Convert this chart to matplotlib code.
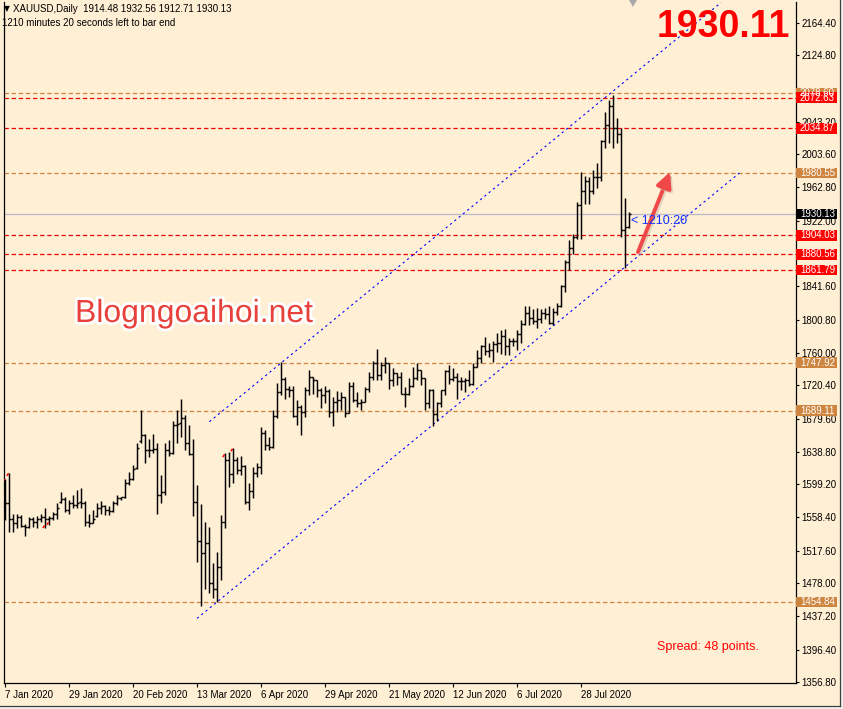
import matplotlib
matplotlib.use('Agg')
import matplotlib.pyplot as plt
from matplotlib.collections import LineCollection
import matplotlib.patches as mpatches
import matplotlib.transforms as mtransforms
import matplotlib.patheffects as pe

# ---------------- data ----------------
opens = [
    1574, 1576, 1556, 1552, 1559, 1548, 1547, 1557, 1553, 1557,
    1559, 1557, 1558, 1563, 1577, 1581, 1567, 1576, 1574, 1577,
    1576, 1553, 1552, 1560, 1570, 1572, 1567, 1566, 1576, 1582,
    1583, 1600, 1606, 1619, 1652, 1660, 1641, 1641, 1642, 1586,
    1590, 1641, 1637, 1672, 1674, 1680, 1650, 1636, 1577, 1529,
    1515, 1527, 1478, 1471, 1498, 1553, 1629, 1612, 1629, 1617,
    1622, 1577, 1591, 1613, 1620, 1662, 1647, 1645, 1683, 1712,
    1728, 1716, 1714, 1683, 1694, 1687, 1714, 1731, 1727, 1714,
    1708, 1713, 1687, 1700, 1702, 1706, 1686, 1720, 1702, 1698,
    1700, 1716, 1731, 1747, 1733, 1745, 1747, 1727, 1735, 1731,
    1710, 1710, 1719, 1729, 1739, 1729, 1699, 1714, 1685, 1698,
    1715, 1738, 1728, 1730, 1726, 1726, 1727, 1722, 1743, 1754,
    1768, 1762, 1763, 1771, 1772, 1781, 1769, 1775, 1774, 1783,
    1795, 1809, 1803, 1799, 1802, 1809, 1807, 1796, 1810, 1818,
    1842, 1871, 1888, 1902, 1941, 1958, 1970, 1958, 1975, 1976,
    2019, 2039, 2063, 2035, 2028, 1911, 1914.48]

highs = [
    1606, 1613, 1563, 1563, 1561, 1550, 1559, 1559, 1560, 1563,
    1570, 1560, 1565, 1576, 1590, 1584, 1580, 1586, 1592, 1594,
    1578, 1563, 1567, 1576, 1578, 1574, 1572, 1578, 1586, 1584,
    1605, 1614, 1623, 1649, 1690, 1661, 1655, 1661, 1649, 1611,
    1649, 1653, 1676, 1690, 1703, 1684, 1672, 1654, 1598, 1575,
    1553, 1547, 1503, 1516, 1561, 1637, 1639, 1643, 1633, 1634,
    1623, 1600, 1620, 1625, 1669, 1666, 1657, 1690, 1723, 1749,
    1731, 1719, 1719, 1702, 1696, 1718, 1739, 1731, 1727, 1717,
    1720, 1716, 1706, 1713, 1712, 1706, 1724, 1724, 1712, 1704,
    1718, 1737, 1750, 1765, 1749, 1755, 1747, 1741, 1735, 1737,
    1718, 1729, 1743, 1747, 1739, 1729, 1716, 1716, 1700, 1715,
    1739, 1745, 1741, 1735, 1731, 1729, 1739, 1747, 1763, 1770,
    1779, 1772, 1774, 1784, 1788, 1789, 1778, 1778, 1788, 1800,
    1818, 1817, 1814, 1815, 1814, 1815, 1817, 1815, 1821, 1843,
    1874, 1898, 1905, 1945, 1981, 1977, 1976, 1984, 1992, 2021,
    2055, 2070, 2076, 2048, 2035, 1950, 1932.56]

lows = [
    1555, 1540, 1540, 1545, 1547, 1536, 1546, 1547, 1546, 1553,
    1545, 1549, 1555, 1557, 1576, 1565, 1563, 1570, 1570, 1570,
    1548, 1547, 1552, 1559, 1563, 1561, 1561, 1565, 1574, 1580,
    1582, 1598, 1604, 1618, 1649, 1625, 1633, 1637, 1563, 1576,
    1586, 1634, 1636, 1650, 1657, 1641, 1635, 1560, 1504, 1450,
    1471, 1466, 1460, 1455, 1482, 1545, 1596, 1600, 1612, 1611,
    1575, 1567, 1582, 1608, 1612, 1641, 1641, 1643, 1680, 1708,
    1704, 1706, 1682, 1672, 1659, 1682, 1708, 1710, 1706, 1692,
    1698, 1682, 1670, 1688, 1690, 1682, 1686, 1700, 1694, 1690,
    1700, 1712, 1727, 1727, 1727, 1735, 1716, 1720, 1721, 1710,
    1694, 1708, 1718, 1727, 1721, 1690, 1692, 1670, 1676, 1694,
    1708, 1722, 1726, 1704, 1714, 1712, 1720, 1721, 1743, 1747,
    1757, 1755, 1749, 1761, 1759, 1757, 1757, 1768, 1763, 1772,
    1794, 1794, 1795, 1790, 1796, 1802, 1795, 1794, 1806, 1816,
    1835, 1862, 1881, 1899, 1900, 1942, 1942, 1954, 1962, 1970,
    2011, 2017, 2011, 2017, 1902, 1864, 1912.71]

closes = [
    1576, 1556, 1552, 1559, 1548, 1547, 1557, 1553, 1557, 1559,
    1557, 1558, 1563, 1570, 1581, 1567, 1576, 1574, 1576, 1576,
    1553, 1552, 1557, 1570, 1572, 1567, 1566, 1576, 1582, 1583,
    1600, 1606, 1618, 1643, 1660, 1641, 1641, 1642, 1586, 1590,
    1641, 1637, 1672, 1673, 1680, 1650, 1636, 1577, 1529, 1515,
    1527, 1478, 1471, 1498, 1553, 1629, 1612, 1629, 1617, 1622,
    1577, 1591, 1613, 1620, 1662, 1647, 1645, 1683, 1712, 1728,
    1716, 1714, 1683, 1694, 1687, 1714, 1731, 1727, 1714, 1708,
    1713, 1687, 1700, 1702, 1706, 1686, 1720, 1702, 1698, 1700,
    1716, 1731, 1747, 1733, 1745, 1747, 1727, 1735, 1731, 1710,
    1710, 1719, 1729, 1739, 1729, 1699, 1714, 1685, 1698, 1715,
    1738, 1728, 1730, 1726, 1726, 1727, 1722, 1743, 1754, 1768,
    1762, 1763, 1771, 1772, 1781, 1769, 1775, 1774, 1783, 1795,
    1809, 1803, 1799, 1802, 1809, 1807, 1796, 1810, 1818, 1842,
    1871, 1888, 1902, 1941, 1958, 1970, 1958, 1975, 1976, 2019,
    2039, 2063, 2035, 2028, 1911, 1914, 1930.13]

date_labels = ['7 Jan 2020', '29 Jan 2020', '20 Feb 2020', '13 Mar 2020', '6 Apr 2020',
               '29 Apr 2020', '21 May 2020', '12 Jun 2020', '6 Jul 2020', '28 Jul 2020']
date_label_bars = [0, 16, 32, 48, 64, 80, 96, 112, 128, 144]

price_ticks = [2164.40, 2124.80, 2084.00, 2043.20, 2003.60, 1962.80, 1922.00, 1881.20,
               1841.60, 1800.80, 1760.00, 1720.40, 1679.60, 1638.80, 1599.20, 1558.40,
               1517.60, 1478.00, 1437.20, 1396.40, 1356.80]
hidden_tick_labels = [2084.00, 1881.20]   # fully covered by price tags in the reference

red_levels = [2072.63, 2034.87, 1904.03, 1880.56, 1861.79]
orange_levels = [2078.60, 1980.55, 1747.92, 1689.11, 1454.84]
bid_price = 1930.13

channel_lower = ([48.0, 183.6], [1434.7, 1980.3])
channel_upper = ([51.1, 179.0], [1675.7, 2189.0])
arrow_from = (158.25, 1883.5)
arrow_to = (166.25, 1981.5)
red_mark_bars = [0, 1, 10, 11, 55, 57]
red_mark_prices = [1604, 1611, 1547, 1551, 1634, 1641]

assert len(opens) == len(highs) == len(lows) == len(closes) == 157

# ---------------- figure ----------------
W, H, DPI = 843, 709, 100
BG = '#FFEFD5'
FONT = 'Liberation Sans'
fig = plt.figure(figsize=(W / DPI, H / DPI), dpi=DPI)
fig.patch.set_facecolor(BG)

L_px, R_px, T_px, B_px = 4, 796, 2, 683
ax = fig.add_axes([L_px / W, 1 - B_px / H, (R_px - L_px) / W, (B_px - T_px) / H])
ax.set_facecolor(BG)
YMIN, YMAX = 1355.6, 2189.8
ax.set_xlim(-0.25, 197.75)
ax.set_ylim(YMIN, YMAX)
px2price = (YMAX - YMIN) / (B_px - T_px)

# horizontal level lines
for lv in orange_levels:
    ax.axhline(lv, color='#CD853F', lw=0.9, ls=(0, (3.5, 2.2)), zorder=1)
for lv in red_levels:
    ax.axhline(lv, color='#EE0000', lw=0.9, ls=(0, (3.5, 2.2)), zorder=1)
ax.axhline(bid_price, color='#B8B8C8', lw=0.9, zorder=1)

# channel lines
for xs, ys in (channel_lower, channel_upper):
    ax.plot(xs, ys, color='#0000FF', lw=0.8, ls=(0, (2.0, 3.0)), zorder=2)

# OHLC bars
segs = []
tk = 0.42
for i, (o, h, l, c) in enumerate(zip(opens, highs, lows, closes)):
    segs.append([(i, l), (i, h)])
    segs.append([(i - tk, o), (i, o)])
    segs.append([(i, c), (i + tk, c)])
ax.add_collection(LineCollection(segs, colors='black', linewidths=1.05, zorder=3,
                                 capstyle='butt'))

# small red marks beside a few bars
rsegs = [[(b - 0.55, p - 1.5), (b - 0.1, p + 1.5)] for b, p in zip(red_mark_bars, red_mark_prices)]
ax.add_collection(LineCollection(rsegs, colors='#FF0000', linewidths=1.1, zorder=4))

# arrow (with a soft shadow)
ax.annotate('', xy=arrow_to, xytext=arrow_from,
            arrowprops=dict(arrowstyle='-|>,head_length=0.9,head_width=0.45',
                            color='#F04848', lw=2.8, shrinkA=0, shrinkB=0,
                            path_effects=[pe.SimpleLineShadow(offset=(1.2, -1.2),
                                                              shadow_color='#C8B8A8',
                                                              alpha=0.5),
                                          pe.Normal()]),
            zorder=6)

# countdown text
ax.text(len(opens) - 0.5, 1922.0, '< 1210:20', color='#1030FF', fontsize=9,
        family=FONT, va='center', ha='left', zorder=6)

# spines
for s in ['left', 'right', 'bottom']:
    ax.spines[s].set_color('black')
    ax.spines[s].set_linewidth(0.9)
ax.spines['top'].set_visible(False)

# axes ticks
ax.yaxis.tick_right()
ax.set_yticks(price_ticks)
ax.set_yticklabels(['' if v in hidden_tick_labels else f'{v:.2f}' for v in price_ticks])
ax.tick_params(axis='y', direction='out', length=2.4, width=0.8, pad=1.5,
               labelsize=7, colors='black')
ax.set_xticks(date_label_bars)
ax.set_xticklabels(date_labels)
ax.tick_params(axis='x', direction='out', length=3.0, width=0.8, pad=2.4,
               labelsize=7, colors='black')
for lab in ax.get_xticklabels():
    lab.set_horizontalalignment('left')
    lab.set_family(FONT)
for lab in ax.get_yticklabels():
    lab.set_family(FONT)

# price tags at the right axis
tag_tr = mtransforms.blended_transform_factory(fig.transFigure, ax.transData)
tag_h = 10.5 * px2price


def tag(price, fc, tc='white'):
    r = mpatches.Rectangle((796 / W, price - tag_h / 2), 41 / W, tag_h, transform=tag_tr,
                           facecolor=fc, edgecolor='none', clip_on=False, zorder=20)
    fig.add_artist(r)
    fig.text(800 / W, price, f'{price:.2f}', transform=tag_tr, color=tc, fontsize=7,
             family=FONT, va='center', ha='left', zorder=21)


for lv in orange_levels:
    tag(lv, '#CD853F')
for lv in red_levels:
    tag(lv, '#FF0000')
tag(bid_price, 'black')

# chart-shift marker at the top
fig.add_artist(mpatches.Polygon([(629 / W, 1.0), (637 / W, 1.0), (633 / W, 1 - 7 / H)],
                                closed=True, transform=fig.transFigure,
                                facecolor='#A8A8A8', edgecolor='none', zorder=25))

# window frame at right and bottom
fig.add_artist(mpatches.Rectangle((840 / W, 0), 3 / W, 1, transform=fig.transFigure,
                                  facecolor='#F0F0F0', edgecolor='none', zorder=26))
fig.add_artist(mpatches.Rectangle((0, 0), 1, 3 / H, transform=fig.transFigure,
                                  facecolor='#F0F0F0', edgecolor='none', zorder=26))
fig.add_artist(plt.Line2D([840 / W, 840 / W], [3 / H, 1], transform=fig.transFigure,
                          color='#404040', lw=0.9, zorder=27))
fig.add_artist(plt.Line2D([0, 840 / W], [3 / H, 3 / H], transform=fig.transFigure,
                          color='#404040', lw=0.9, zorder=27))

# header texts
fig.text(4 / W, 1 - 9 / H, '\u25bc', fontsize=5.5, family=['DejaVu Sans'], va='center',
         ha='left', color='black')
fig.text(13 / W, 1 - 9 / H, 'XAUUSD,Daily  1914.48 1932.56 1912.71 1930.13', fontsize=7,
         family=FONT, va='center', ha='left', color='black')
fig.text(2 / W, 1 - 23 / H, '1210 minutes 20 seconds left to bar end', fontsize=7,
         family=FONT, va='center', ha='left', color='black')

# big price
fig.text(657 / W, 1 - 37 / H, '1930.11', fontsize=27, fontweight='bold', family=FONT,
         color='#FF0000', va='baseline', ha='left', zorder=30)

# watermark
fig.text(75 / W, 1 - 322 / H, 'Blogngoaihoi.net', fontsize=23, family=FONT,
         color='#E8403A', va='baseline', ha='left', zorder=30,
         path_effects=[pe.withStroke(linewidth=4, foreground='white')])

# spread
fig.text(657 / W, 1 - 647 / H, 'Spread: 48 points.', fontsize=9, family=FONT,
         color='#FF0000', va='center', ha='left', zorder=30)

fig.savefig('out.png', dpi=DPI, facecolor=BG)
